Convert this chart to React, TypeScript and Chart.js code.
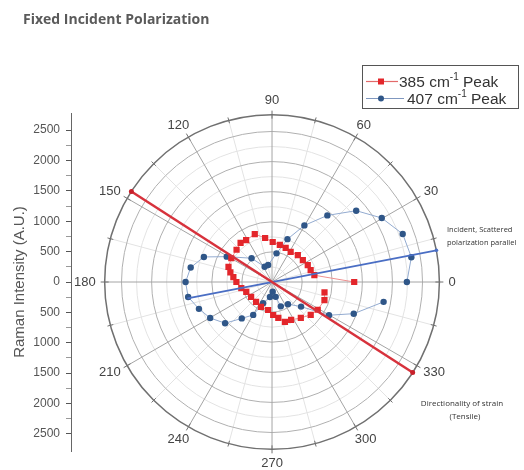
import React, { useEffect, useRef } from "react";
import { Chart, registerables } from "chart.js";

Chart.register(...registerables);

// ---------- text ----------
const titleText = "Fixed Incident Polarization";
const yAxisTitle = "Raman Intensity (A.U.)";
const legendMain = ["385 cm", "407 cm"];
const legendSup = "-1";
const legendTail = " Peak";
const polarizationNote = ["Incident, Scattered", "polarization parallel"];
const strainNote = ["Directionality of strain", "(Tensile)"];

// ---------- scales ----------
const radialMax = 2780;
const yTickValues = [
  -2500, -2250, -2000, -1750, -1500, -1250, -1000, -750, -500, -250, 0,
  250, 500, 750, 1000, 1250, 1500, 1750, 2000, 2250, 2500,
];
const radialMajorCircles = [500, 1000, 1500, 2000, 2500];
const radialMinorCircles = [250, 750, 1250, 1750, 2250];
const angleMajor = [0, 30, 60, 90, 120, 150, 180, 210, 240, 270, 300, 330];
const angleMinor = [15, 45, 75, 105, 135, 165, 195, 225, 255, 285, 315, 345];

// ---------- series (angle in degrees, intensity in A.U.) ----------
const redAngles = [
  0, 9, 17, 25, 35, 46, 58, 68, 78, 89, 99, 110, 122, 129, 138, 150, 161, 167,
  173, 180, 191, 201, 215, 231, 246, 262, 272, 280, 288, 297, 309, 320, 329, 341, 349,
];
const redValues = [
  1365, 712, 671, 655, 625, 617, 584, 605, 623, 658, 733, 838, 812, 830, 793, 781, 765, 710,
  647, 592, 520, 458, 424, 421, 449, 465, 543, 600, 691, 699, 760, 839, 886, 921, 888,
];
const blueAngles = [
  0, 10, 20, 30, 40, 50, 60, 70, 81, 103, 116, 131, 151, 160, 170, 180, 190, 200,
  210, 221, 230, 240, 247, 262, 274, 284, 290, 306, 320, 330, 339, 350,
];
const blueValues = [
  2240, 2350, 2310, 2105, 1825, 1430, 1075, 750, 477, 288, 280, 518, 860, 1205, 1372, 1436, 1415, 1292,
  1186, 1033, 782, 625, 380, 250, 160, 252, 426, 450, 630, 1093, 1454, 1882,
];
// reference lines through the origin
const strainAngle = 147.5;
const strainRange = [-2770, 2770];
const polarizationAngle = 10.8;
const polarizationRange = [-1430, 2780];

// ---------- layout (pixels) ----------
const W = 524;
const H = 470;
const plotCenterX = 274;
const chartLeft = 71;
const chartRight = 524;
const plotRadiusPx = 169;
const plotTop = 113;

const RED = "#e3262b";
const BLUE = "#2f5688";

function toXY(angles: number[], values: number[]) {
  return values.map((r, i) => {
    const a = (angles[i] * Math.PI) / 180;
    return { x: r * Math.cos(a), y: r * Math.sin(a) };
  });
}

const polarPlugin = {
  id: "polarGrid",
  beforeDatasetsDraw(chart: any) {
    const { ctx } = chart;
    const xs = chart.scales.x;
    const ys = chart.scales.y;
    const cx = xs.getPixelForValue(0);
    const cy = ys.getPixelForValue(0);
    const rp = (v: number) => xs.getPixelForValue(v) - cx;
    const R = rp(radialMax);
    ctx.save();
    const circle = (r: number, color: string, lw: number) => {
      ctx.beginPath();
      ctx.arc(cx, cy, r, 0, Math.PI * 2);
      ctx.strokeStyle = color;
      ctx.lineWidth = lw;
      ctx.stroke();
    };
    const spoke = (deg: number, color: string, lw: number) => {
      const a = (deg * Math.PI) / 180;
      ctx.beginPath();
      ctx.moveTo(cx, cy);
      ctx.lineTo(cx + R * Math.cos(a), cy - R * Math.sin(a));
      ctx.strokeStyle = color;
      ctx.lineWidth = lw;
      ctx.stroke();
    };
    radialMinorCircles.forEach((v) => circle(rp(v), "#e3e3e3", 1));
    angleMinor.forEach((d) => spoke(d, "#e3e3e3", 1));
    radialMajorCircles.forEach((v) => circle(rp(v), "#b0b0b0", 1));
    angleMajor.forEach((d) => spoke(d, "#a4a4a4", 1));
    circle(R, "#707070", 1.5);
    // ticks on the outer ring
    [...angleMajor, ...angleMinor].forEach((d) => {
      const a = (d * Math.PI) / 180;
      const len = angleMajor.includes(d) ? 4 : 3;
      ctx.beginPath();
      ctx.moveTo(cx + (R - len) * Math.cos(a), cy - (R - len) * Math.sin(a));
      ctx.lineTo(cx + (R + len) * Math.cos(a), cy - (R + len) * Math.sin(a));
      ctx.strokeStyle = "#707070";
      ctx.lineWidth = 1;
      ctx.stroke();
    });
    // angle labels
    ctx.font = '13px "Liberation Sans", Arial, sans-serif';
    ctx.fillStyle = "#444";
    ctx.textAlign = "center";
    ctx.textBaseline = "middle";
    angleMajor.forEach((d) => {
      const a = (d * Math.PI) / 180;
      const t = String(d);
      const w = ctx.measureText(t).width;
      const dx = Math.cos(a);
      const dy = -Math.sin(a);
      const px = cx + dx * (R + 9) + (dx * w) / 2;
      const py = cy + dy * (R + 9) + dy * 5;
      ctx.fillText(t, px, py);
    });
    ctx.restore();
  },
  afterDraw(chart: any) {
    const { ctx } = chart;
    ctx.save();
    // title
    ctx.font = 'bold 14px "Open Sans", sans-serif';
    ctx.fillStyle = "#5a5a5a";
    ctx.textAlign = "left";
    ctx.textBaseline = "alphabetic";
    ctx.fillText(titleText, 23, 24);

    // legend
    ctx.strokeStyle = "#555";
    ctx.lineWidth = 1;
    ctx.strokeRect(362.5, 65.5, 156, 43);
    const rows = [
      { y: 81.5, color: RED, lineColor: "#e36a6a", lineEnd: 398, textX: 399, marker: "rect" },
      { y: 98.5, color: BLUE, lineColor: "#7f97bf", lineEnd: 404, textX: 407, marker: "circle" },
    ];
    rows.forEach((row, i) => {
      ctx.beginPath();
      ctx.moveTo(366, row.y);
      ctx.lineTo(row.lineEnd, row.y);
      ctx.strokeStyle = row.lineColor;
      ctx.lineWidth = 1.2;
      ctx.stroke();
      ctx.fillStyle = row.color;
      if (row.marker === "rect") {
        ctx.fillRect(378, row.y - 3, 6, 6);
      } else {
        ctx.beginPath();
        ctx.arc(381, row.y, 3, 0, Math.PI * 2);
        ctx.fill();
      }
      ctx.fillStyle = "#333";
      ctx.textBaseline = "middle";
      ctx.font = '15.5px "Liberation Sans", Arial, sans-serif';
      let x = row.textX;
      ctx.fillText(legendMain[i], x, row.y + 1);
      x += ctx.measureText(legendMain[i]).width;
      ctx.font = '10px "Liberation Sans", Arial, sans-serif';
      ctx.fillText(legendSup, x, row.y - 4);
      x += ctx.measureText(legendSup).width;
      ctx.font = '15.5px "Liberation Sans", Arial, sans-serif';
      ctx.fillText(legendTail, x, row.y + 1);
    });

    // annotations
    ctx.fillStyle = "#333";
    ctx.font = '7.5px "Open Sans", sans-serif';
    ctx.textAlign = "left";
    ctx.fillText(polarizationNote[0], 447, 230);
    ctx.fillText(polarizationNote[1], 447, 242.5);
    ctx.font = '8px "Open Sans", sans-serif';
    ctx.textAlign = "center";
    ctx.fillText(strainNote[0], 462, 403.5);
    ctx.fillText(strainNote[1], 465, 417);
    ctx.restore();
  },
};

export default function App() {
  const ref = useRef<HTMLCanvasElement>(null);
  useEffect(() => {
    if (!ref.current) return;
    const xMin = (-(plotCenterX - chartLeft) / plotRadiusPx) * radialMax;
    const xMax = ((chartRight - plotCenterX) / plotRadiusPx) * radialMax;
    const chart = new Chart(ref.current, {
      type: "scatter",
      data: {
        datasets: [
          {
            label: "Strain",
            data: toXY([strainAngle, strainAngle], strainRange),
            showLine: true,
            borderColor: "#d7323c",
            borderWidth: 2.5,
            pointRadius: 2.5,
            pointBackgroundColor: "#c8202a",
            pointBorderWidth: 0,
          },
          {
            label: "Polarization",
            data: toXY([polarizationAngle, polarizationAngle], polarizationRange),
            showLine: true,
            borderColor: "#4a6ec4",
            borderWidth: 1.8,
            pointRadius: [0, 1.8],
            pointBackgroundColor: "#4a6ec4",
            pointBorderWidth: 0,
          },
          {
            label: "385 cm-1 Peak",
            data: toXY(redAngles, redValues),
            showLine: true,
            borderColor: "#ee9090",
            borderWidth: 1,
            pointStyle: "rect",
            pointRadius: 4.4,
            pointBackgroundColor: RED,
            pointBorderWidth: 0,
          },
          {
            label: "407 cm-1 Peak",
            data: toXY(blueAngles, blueValues),
            showLine: true,
            borderColor: "#93abd0",
            borderWidth: 1,
            pointStyle: "circle",
            pointRadius: 3.2,
            pointBackgroundColor: BLUE,
            pointBorderWidth: 0,
          },
        ],
      },
      options: {
        responsive: false,
        animation: false,
        events: [],
        layout: { padding: { left: 0, right: W - chartRight, top: plotTop, bottom: H - plotTop - 2 * plotRadiusPx } },
        scales: {
          x: { type: "linear", display: false, min: xMin, max: xMax },
          y: {
            type: "linear",
            min: -radialMax,
            max: radialMax,
            afterFit: (s: any) => {
              s.width = chartLeft;
            },
            afterBuildTicks: (s: any) => {
              s.ticks = yTickValues.map((v) => ({ value: v }));
            },
            ticks: {
              autoSkip: false,
              padding: 6,
              color: "#555",
              font: { size: 12, family: '"Liberation Sans", Arial, sans-serif' },
              callback: (v: any) => (Number(v) % 500 === 0 ? String(Math.abs(Number(v))) : ""),
            },
            grid: {
              drawOnChartArea: false,
              tickLength: 5,
              color: "#666",
              tickColor: (c: any) => (c.tick && c.tick.value % 500 === 0 ? "#555" : "#999"),
            },
            border: { display: true, color: "#666", width: 1 },
            title: {
              display: true,
              text: yAxisTitle,
              color: "#555",
              font: { size: 15, family: '"Liberation Sans", Arial, sans-serif' },
              padding: { top: 11, bottom: 0 },
            },
          },
        },
        plugins: { legend: { display: false }, tooltip: { enabled: false } },
      },
      plugins: [polarPlugin],
    });
    return () => chart.destroy();
  }, []);
  return (
    <div style={{ position: "fixed", left: 0, top: 0, width: W, height: H, background: "#fff" }}>
      <canvas ref={ref} width={W} height={H} style={{ display: "block" }} />
    </div>
  );
}
